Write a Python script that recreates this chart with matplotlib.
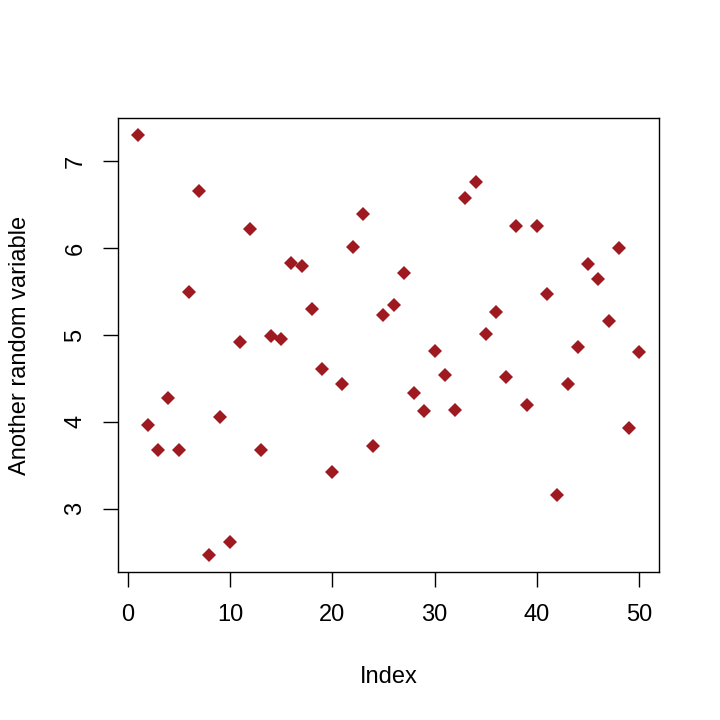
import matplotlib
matplotlib.use("Agg")
import matplotlib.pyplot as plt

plt.rcParams['font.family'] = ['Liberation Sans', 'DejaVu Sans']

index = list(range(1, 51))
values = [7.31, 3.96, 3.68, 4.28, 3.68, 5.50, 6.66, 2.46, 4.05, 2.62,
          4.92, 6.22, 3.68, 4.99, 4.95, 5.83, 5.79, 5.30, 4.61, 3.42,
          4.44, 6.01, 6.39, 3.72, 5.23, 5.35, 5.71, 4.33, 4.12, 4.82,
          4.54, 4.14, 6.58, 6.76, 5.01, 5.26, 4.52, 6.26, 4.19, 6.26,
          5.47, 3.16, 4.44, 4.86, 5.82, 5.65, 5.16, 6.00, 3.93, 4.81]

fig = plt.figure(figsize=(7.2, 7.2), dpi=100)
ax = fig.add_axes([0.1635, 0.2051, 0.7522, 0.6314])

ax.plot(index, values, linestyle='none', marker='D', markersize=7.2,
        color='#9E1A20', markeredgewidth=0)

# R style: 4% padding
xr = max(index) - min(index)
yr = max(values) - min(values)
ax.set_xlim(min(index) - 0.04 * xr, max(index) + 0.04 * xr)
ax.set_ylim(min(values) - 0.04 * yr, max(values) + 0.04 * yr)

ax.set_xticks([0, 10, 20, 30, 40, 50])
ax.set_yticks([3, 4, 5, 6, 7])
ax.tick_params(length=10.5, width=1, labelsize=17, pad=12)
plt.setp(ax.get_yticklabels(), rotation=90, va='center')
for s in ax.spines.values():
    s.set_linewidth(1)

ax.set_xlabel('Index', fontsize=17, labelpad=29)
ax.set_ylabel('Another random variable', fontsize=17, labelpad=24)

fig.savefig('out.png', dpi=100)
